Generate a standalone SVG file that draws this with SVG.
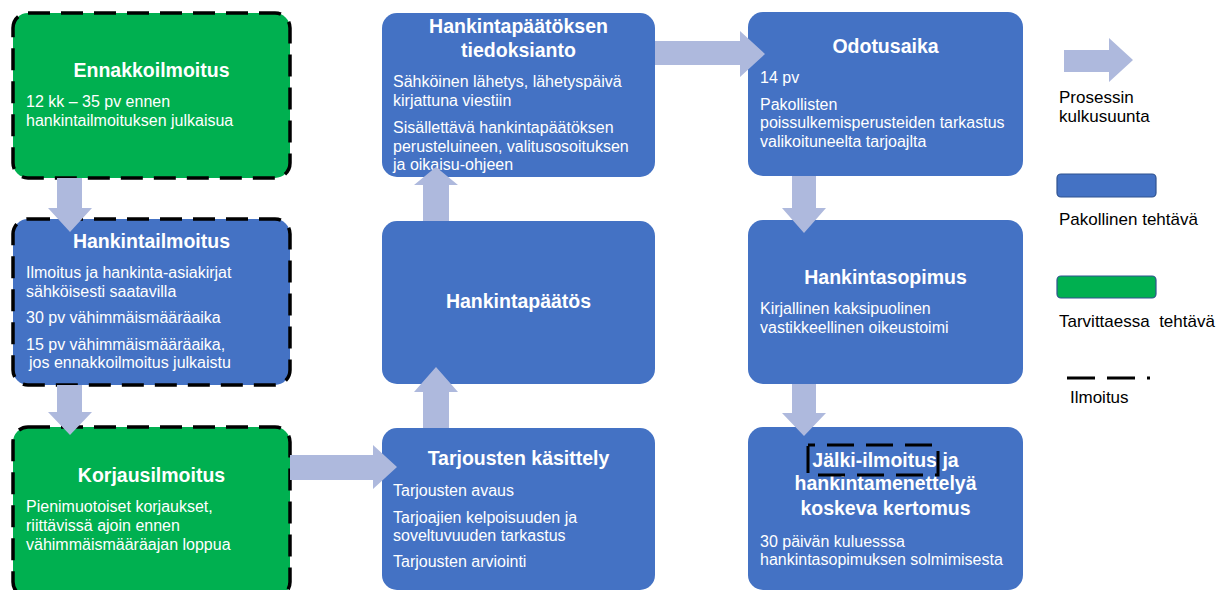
<svg xmlns="http://www.w3.org/2000/svg" width="1229" height="590" viewBox="0 0 1229 590">
<style>
text { font-family: "Liberation Sans", Arial, sans-serif; fill: #ffffff; }
.t { font-size: 19.5px; font-weight: bold; text-anchor: middle; }
.b { font-size: 16px; }
.lg { font-size: 17px; fill: #000000; }
.blue { fill: #4472C4; }
.green { fill: #00B050; }
.dash { stroke: #000000; stroke-width: 3.5; stroke-dasharray: 22 11; }
.arr { fill: #AEB9DD; }
</style>
<rect width="1229" height="590" fill="#ffffff"/>

<g id="ennakkoilmoitus">
<rect class="green dash" x="13" y="13" width="277" height="165" rx="15"/>
<text class="t" x="151.5" y="77">Ennakkoilmoitus</text>
<text class="b" x="26" y="107">12 kk – 35 pv ennen</text>
<text class="b" x="26" y="126">hankintailmoituksen julkaisua</text>
</g>

<g id="hankintailmoitus">
<rect class="blue dash" x="13" y="219" width="277" height="166" rx="15"/>
<text class="t" x="151.5" y="248">Hankintailmoitus</text>
<text class="b" x="26" y="278">Ilmoitus ja hankinta-asiakirjat</text>
<text class="b" x="26" y="297">sähköisesti saatavilla</text>
<text class="b" x="26" y="323">30 pv vähimmäismääräaika</text>
<text class="b" x="26" y="350">15 pv vähimmäismääräaika,</text>
<text class="b" x="29" y="368">jos ennakkoilmoitus julkaistu</text>
</g>

<g id="korjausilmoitus">
<rect class="green dash" x="13" y="427" width="277" height="170" rx="15"/>
<text class="t" x="151.5" y="482">Korjausilmoitus</text>
<text class="b" x="26" y="512">Pienimuotoiset korjaukset,</text>
<text class="b" x="26" y="531">riittävissä ajoin ennen</text>
<text class="b" x="26" y="550">vähimmäismääräajan loppua</text>
</g>

<g id="tiedoksianto">
<rect class="blue" x="382" y="13" width="273" height="164" rx="15"/>
<text class="t" x="518.5" y="33">Hankintapäätöksen</text>
<text class="t" x="518.5" y="57">tiedoksianto</text>
<text class="b" x="393" y="87">Sähköinen lähetys, lähetyspäivä</text>
<text class="b" x="393" y="106">kirjattuna viestiin</text>
<text class="b" x="393" y="133">Sisällettävä hankintapäätöksen</text>
<text class="b" x="393" y="152">perusteluineen, valitusosoituksen</text>
<text class="b" x="393" y="170">ja oikaisu-ohjeen</text>
</g>

<g id="hankintapaatos">
<rect class="blue" x="382" y="221" width="273" height="163" rx="15"/>
<text class="t" x="518.5" y="308">Hankintapäätös</text>
</g>

<g id="tarjousten-kasittely">
<rect class="blue" x="382" y="428" width="273" height="162" rx="15"/>
<text class="t" x="518.5" y="465">Tarjousten käsittely</text>
<text class="b" x="393" y="496">Tarjousten avaus</text>
<text class="b" x="393" y="523">Tarjoajien kelpoisuuden ja</text>
<text class="b" x="393" y="541">soveltuvuuden tarkastus</text>
<text class="b" x="393" y="567">Tarjousten arviointi</text>
</g>

<g id="odotusaika">
<rect class="blue" x="748" y="12" width="275" height="164" rx="15"/>
<text class="t" x="885.5" y="53">Odotusaika</text>
<text class="b" x="760" y="83">14 pv</text>
<text class="b" x="760" y="110">Pakollisten</text>
<text class="b" x="760" y="128">poissulkemisperusteiden tarkastus</text>
<text class="b" x="760" y="147">valikoituneelta tarjoajlta</text>
</g>

<g id="hankintasopimus">
<rect class="blue" x="748" y="220" width="275" height="164" rx="15"/>
<text class="t" x="885.5" y="284">Hankintasopimus</text>
<text class="b" x="760" y="314">Kirjallinen kaksipuolinen</text>
<text class="b" x="760" y="333">vastikkeellinen oikeustoimi</text>
</g>

<g id="jalki-ilmoitus">
<rect class="blue" x="748" y="427" width="275" height="163" rx="15"/>
<text class="t" x="885.5" y="467">Jälki-ilmoitus ja</text>
<text class="t" x="885.5" y="490">hankintamenettelyä</text>
<text class="t" x="885.5" y="515">koskeva kertomus</text>
<text class="b" x="760" y="547">30 päivän kuluesssa</text>
<text class="b" x="760" y="565">hankintasopimuksen solmimisesta</text>
<rect x="808" y="445" width="130" height="30" fill="none" stroke="#000000" stroke-width="3" stroke-dasharray="27 12" stroke-dashoffset="20"/>
</g>

<g id="connectors">
<polygon class="arr" points="57,178 82,178 82,208 92,208 70,232 48,208 57,208"/>
<polygon class="arr" points="57,385 82,385 82,412 92,412 70,435 48,412 57,412"/>
<polygon class="arr" points="290,455 373,455 373,445 397,467 373,489 373,480 290,480"/>
<polygon class="arr" points="423,428 423,392 414,392 436,367 458,392 449,392 449,428"/>
<polygon class="arr" points="423,221 423,185 414,185 436,167 458,185 449,185 449,221"/>
<polygon class="arr" points="655,41 740,41 740,31 765,54 740,77 740,65 655,65"/>
<polygon class="arr" points="792,176 816,176 816,208 826,208 804,233 782,208 792,208"/>
<polygon class="arr" points="792,384 816,384 816,413 826,413 804,436 782,413 792,413"/>
</g>

<g id="legend">
<polygon class="arr" points="1064,50 1109,50 1109,38 1133,60 1109,82 1109,72 1064,72"/>
<text class="lg" x="1059" y="103">Prosessin</text>
<text class="lg" x="1059" y="122">kulkusuunta</text>
<rect x="1057" y="174" width="99" height="23" rx="4" fill="#4472C4" stroke="#2F528F" stroke-width="1.2"/>
<text class="lg" x="1059" y="225">Pakollinen tehtävä</text>
<rect x="1057" y="276" width="99" height="22" rx="4" fill="#00B050" stroke="#2F528F" stroke-width="1.2"/>
<text class="lg" x="1059" y="327" xml:space="preserve">Tarvittaessa  tehtävä</text>
<line x1="1067" y1="378" x2="1150" y2="378" stroke="#000000" stroke-width="3" stroke-dasharray="28 12"/>
<text class="lg" x="1070" y="403">Ilmoitus</text>
</g>
</svg>
